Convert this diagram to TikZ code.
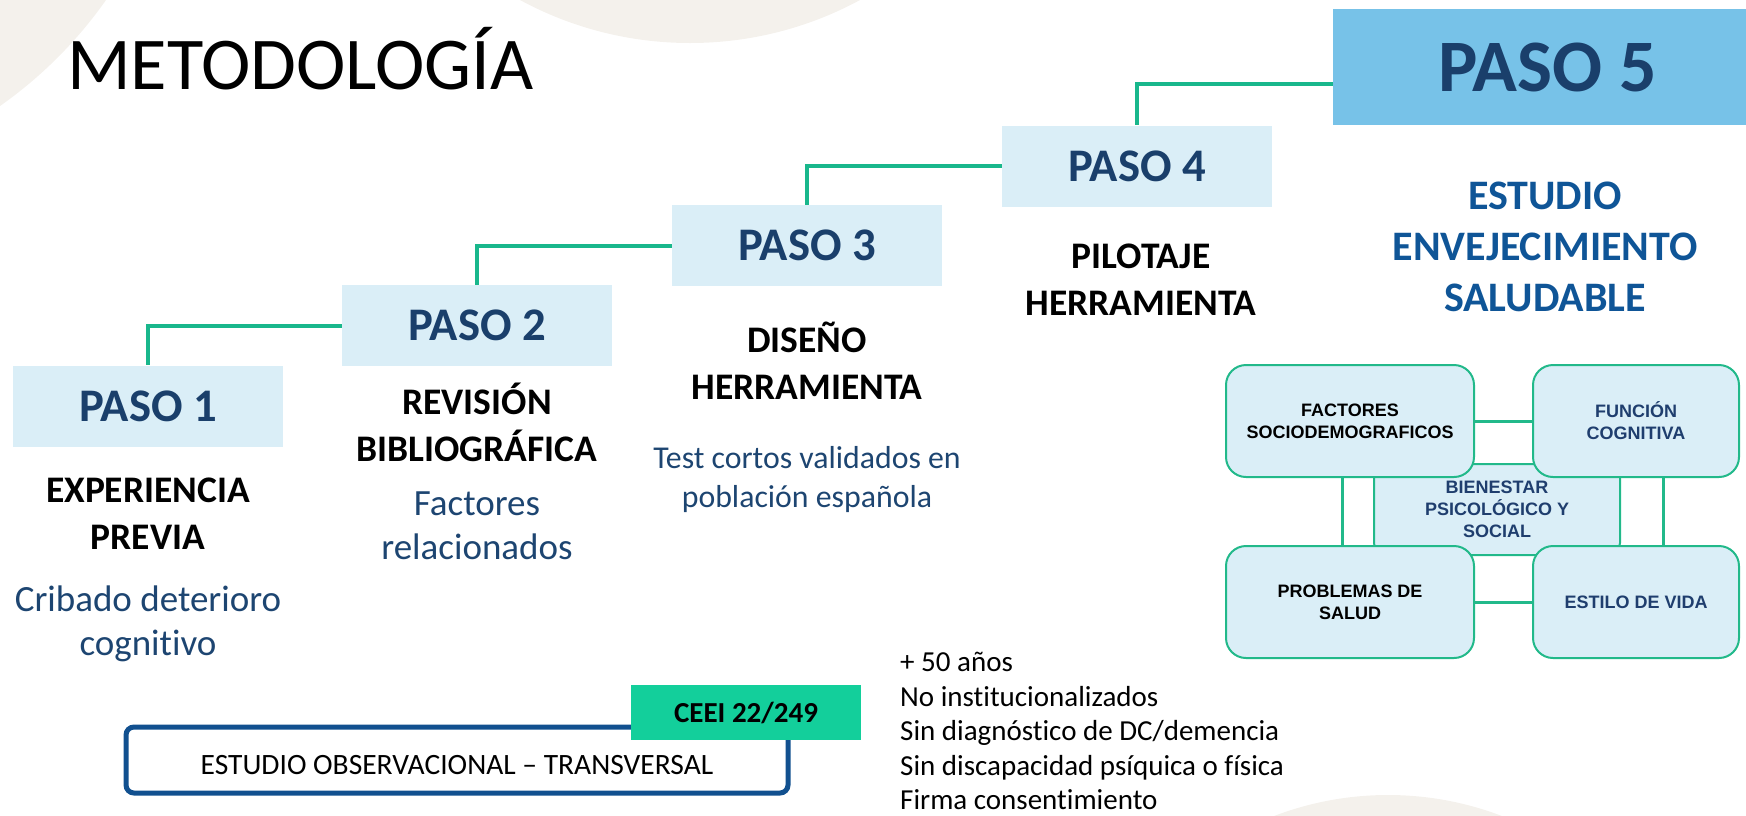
\documentclass[tikz,border=0pt]{standalone}
\usepackage{fontspec}
\setmainfont{Carlito}[Ligatures=NoCommon]
\newfontfamily\arialf{Liberation Sans}
\usetikzlibrary{calc}
\definecolor{bgbeige}{HTML}{F4F1EC}
\definecolor{pasofill}{HTML}{DAEEF7}
\definecolor{pasofive}{HTML}{77C2E8}
\definecolor{pasotext}{HTML}{1A3F6B}
\definecolor{conncol}{HTML}{19B78C}
\definecolor{desccol}{HTML}{1D4571}
\definecolor{estcol}{HTML}{0F5597}
\definecolor{chartline}{HTML}{22B98A}
\definecolor{chartblue}{HTML}{1F3E6E}
\definecolor{obscol}{HTML}{11508F}
\definecolor{ceeicol}{HTML}{13CF9B}
\tikzset{
  pasobox/.style={fill=pasofill, minimum width=270pt, minimum height=81pt, inner sep=0pt, text=pasotext, font=\bfseries\fontsize{46.7}{56}\selectfont},
  conn/.style={draw=conncol, line width=4pt},
  blk/.style={align=center, inner sep=0pt, font=\bfseries\fontsize{37.5}{47}\selectfont},
  dsc/.style={align=center, inner sep=0pt, text=desccol, font=\fontsize{37}{44}\selectfont},
  cbox/.style={draw=chartline, fill=pasofill, line width=2pt, rounded corners=20pt, align=center, inner sep=0pt, minimum height=112pt, font=\arialf\bfseries\fontsize{18}{22}\selectfont},
  cconn/.style={draw=chartline, line width=3pt}
}
\begin{document}
\begin{tikzpicture}[x=1pt,y=-1pt]
\useasboundingbox (0,0) rectangle (1746,815);
\begin{scope}
\clip (0,0) rectangle (1746,815);
\fill[bgbeige] (-250,-250) circle[radius=435pt];
\fill[bgbeige] (690,-314) circle[radius=357pt];
\fill[bgbeige] (1388,1113) circle[radius=318pt];
\end{scope}

\node[anchor=base west, inner sep=0pt, font=\fontsize{74.5}{80}\selectfont] (title) at (67,89) {METODOLOGÍA};

\node[pasobox] (p1) at (148,406) {PASO 1};
\node[pasobox] (p2) at (477,325.5) {PASO 2};
\node[pasobox] (p3) at (807,245.5) {PASO 3};
\node[pasobox] (p4) at (1137,166) {PASO 4};
\node[pasobox, fill=pasofive, minimum width=429pt, minimum height=116pt, font=\bfseries\fontsize{74}{80}\selectfont] (p5) at (1547.5,67) {PASO 5};

\coordinate (c5) at ($(p5.west)+(0,17)$);
\draw[conn] (p2.west) -| (p1.north);
\draw[conn] (p3.west) -| (p2.north);
\draw[conn] (p4.west) -| (p3.north);
\draw[conn] (c5) -| (p4.north);

\node[blk] (t1) at (148,513.5) {EXPERIENCIA\\PREVIA};
\node[dsc] (d1) at (148,624) {Cribado deterioro\\cognitivo};
\node[blk] (t2) at (477,422) {REVISIÓN\\BIBLIOGRÁFICA};
\node[dsc] (d2) at (477,526) {Factores\\relacionados};
\node[blk] (t3) at (807,360.5) {DISEÑO\\HERRAMIENTA};
\node[dsc, font=\fontsize{31.8}{39}\selectfont] (d3) at (807,479.5) {Test cortos validados en\\población española};
\node[blk] (t4) at (1141,280) {PILOTAJE\\HERRAMIENTA};
\node[align=center, inner sep=0pt, text=estcol, font=\bfseries\fontsize{42}{51}\selectfont] (t5) at (1545,247) {ESTUDIO\\ENVEJECIMIENTO\\SALUDABLE};

\node[cbox, rounded corners=12pt, minimum width=246pt, minimum height=91pt, text=chartblue] (bien) at (1497,509.5) {BIENESTAR\\PSICOLÓGICO Y\\SOCIAL};
\node[cbox, minimum width=248pt] (fac) at (1350,421) {FACTORES\\SOCIODEMOGRAFICOS};
\node[cbox, minimum width=206pt, text=chartblue] (fun) at (1636,421) {FUNCIÓN\\COGNITIVA};
\node[cbox, minimum width=248pt] (pro) at (1350,602) {PROBLEMAS DE\\SALUD};
\node[cbox, minimum width=206pt, text=chartblue] (vida) at (1636,602) {ESTILO DE VIDA};
\draw[cconn] (fac.east) -- (fun.west);
\draw[cconn] (pro.east) -- (vida.west);
\draw[cconn] ($(fac.south)+(-8,0)$) -- ($(pro.north)+(-8,0)$);
\draw[cconn] ($(fun.south)+(27,0)$) -- ($(vida.north)+(27,0)$);

\node[draw=obscol, line width=5pt, rounded corners=8pt, minimum width=662pt, minimum height=66pt, inner sep=0pt, text height=29pt, text depth=0pt, font=\fontsize{29.5}{34}\selectfont] (obs) at (457,760) {ESTUDIO OBSERVACIONAL – TRANSVERSAL};
\node[fill=ceeicol, minimum width=230pt, minimum height=55pt, inner sep=0pt, font=\bfseries\fontsize{29}{34}\selectfont] (ceei) at (746,712.5) {CEEI 22/249};

\node[anchor=west, align=left, inner sep=0pt, font=\fontsize{29}{34.5}\selectfont] (crit) at (900,731) {+ 50 años\\No institucionalizados\\Sin diagnóstico de DC/demencia\\Sin discapacidad psíquica o física\\Firma consentimiento};
\end{tikzpicture}
\end{document}
